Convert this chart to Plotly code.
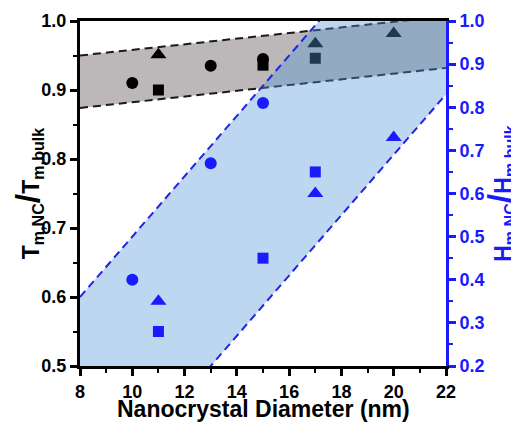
import plotly.graph_objects as go

# ---- data ----
# Tm,NC / Tm,bulk (left axis, black markers)
tm_circle_x = [10, 13, 15]
tm_circle_y = [0.91, 0.935, 0.945]
tm_square_x = [11, 15, 17]
tm_square_y = [0.90, 0.936, 0.946]
tm_tri_x = [11, 17, 20]
tm_tri_y = [0.951, 0.967, 0.982]

# Hm,NC / Hm,bulk (right axis, blue markers)
hm_circle_x = [10, 13, 15]
hm_circle_y = [0.40, 0.67, 0.81]
hm_square_x = [11, 15, 17]
hm_square_y = [0.28, 0.45, 0.65]
hm_tri_x = [11, 17, 20]
hm_tri_y = [0.35, 0.60, 0.73]

# band guide lines (values at x = 8 and x = 22)
band_x = [8, 22]
gray_upper = [0.95, 1.007]
gray_lower = [0.874, 0.932]
blue_upper = [0.36, 1.34]
blue_lower = [-0.15, 0.83]

x_ticks = [8, 10, 12, 14, 16, 18, 20, 22]
yl_ticks = [0.5, 0.6, 0.7, 0.8, 0.9, 1.0]
yr_ticks = [0.2, 0.3, 0.4, 0.5, 0.6, 0.7, 0.8, 0.9, 1.0]

FONT = "Liberation Sans, Arial, sans-serif"
BLUE = "#1a1aff"
fig = go.Figure()

# gray band (left axis)
fig.add_trace(go.Scatter(
    x=band_x + band_x[::-1], y=gray_upper + gray_lower[::-1],
    fill="toself", fillcolor="rgb(188,184,185)", mode="none",
    showlegend=False, hoverinfo="skip"))
for yy in (gray_upper, gray_lower):
    fig.add_trace(go.Scatter(x=band_x, y=yy, mode="lines",
                             line=dict(color="#1a1a1a", width=2, dash="8px,5px"),
                             showlegend=False, hoverinfo="skip"))

fig.add_trace(go.Scatter(x=tm_circle_x, y=tm_circle_y, mode="markers",
                         marker=dict(symbol="circle", color="black", size=12), showlegend=False))
fig.add_trace(go.Scatter(x=tm_square_x, y=tm_square_y, mode="markers",
                         marker=dict(symbol="square", color="black", size=11), showlegend=False))
fig.add_trace(go.Scatter(x=tm_tri_x, y=tm_tri_y, mode="markers",
                         marker=dict(symbol="triangle-up", color="black", size=14), showlegend=False))

# blue band (right axis) drawn over
fig.add_trace(go.Scatter(
    x=band_x + band_x[::-1], y=blue_upper + blue_lower[::-1], yaxis="y2",
    fill="toself", fillcolor="rgba(80,150,212,0.38)", mode="none",
    showlegend=False, hoverinfo="skip"))
for yy in (blue_upper, blue_lower):
    fig.add_trace(go.Scatter(x=band_x, y=yy, yaxis="y2", mode="lines",
                             line=dict(color="#2323e6", width=2, dash="8px,5px"),
                             showlegend=False, hoverinfo="skip"))

fig.add_trace(go.Scatter(x=hm_circle_x, y=hm_circle_y, yaxis="y2", mode="markers",
                         marker=dict(symbol="circle", color=BLUE, size=12), showlegend=False))
fig.add_trace(go.Scatter(x=hm_square_x, y=hm_square_y, yaxis="y2", mode="markers",
                         marker=dict(symbol="square", color=BLUE, size=11), showlegend=False))
fig.add_trace(go.Scatter(x=hm_tri_x, y=hm_tri_y, yaxis="y2", mode="markers",
                         marker=dict(symbol="triangle-up", color=BLUE, size=14), showlegend=False))

fig.add_annotation(text="<b>Nanocrystal Diameter (nm)</b>", xref="paper", yref="paper",
                   x=0.5, y=0, yshift=-43, xanchor="center", yanchor="middle",
                   showarrow=False, font=dict(family=FONT, size=23, color="black"))

tickfont = dict(family=FONT, size=18, color="black")
fig.update_layout(
    width=511, height=416,
    margin=dict(l=72, r=73, t=13, b=58, autoexpand=False),
    paper_bgcolor="white", plot_bgcolor="white",
    font=dict(family=FONT),
    xaxis=dict(range=[8, 22], tickvals=x_ticks, ticktext=["<b>%d</b>" % v for v in x_ticks],
               automargin=False,
               showgrid=False, zeroline=False, showline=True, linecolor="black",
               linewidth=3, mirror=True, ticks="outside", ticklen=7, tickwidth=2.5,
               tickcolor="black", tickfont=tickfont,
               minor=dict(dtick=1, ticklen=4, tickwidth=2, tickcolor="black", ticks="outside")),
    yaxis=dict(range=[0.5, 1.0], tickvals=yl_ticks, ticktext=["<b>%.1f</b>" % v for v in yl_ticks],
               automargin=False,
               showgrid=False, zeroline=False, showline=True, linecolor="black",
               linewidth=3, ticks="outside", ticklen=7, tickwidth=2.5, tickcolor="black",
               tickfont=tickfont,
               minor=dict(dtick=0.05, ticklen=4, tickwidth=2, tickcolor="black", ticks="outside"),
               title=dict(text="<b>T<sub>m,NC</sub><span style='font-size:34px'>/</span>T<sub>m,bulk</sub></b>",
                          standoff=2, font=dict(family=FONT, size=23, color="black"))),
    yaxis2=dict(range=[0.2, 1.0], overlaying="y", side="right", automargin=False,
                tickvals=yr_ticks, ticktext=["<b>%.1f</b>" % v for v in yr_ticks],
                showgrid=False, zeroline=False, showline=True, linecolor=BLUE,
                linewidth=3, ticks="outside", ticklen=7, tickwidth=2.5, tickcolor=BLUE,
                tickfont=dict(family=FONT, size=18, color=BLUE),
                minor=dict(dtick=0.05, ticklen=4, tickwidth=2, tickcolor=BLUE, ticks="outside"),
                title=dict(text="<b>H<sub>m,NC</sub><span style='font-size:34px'>/</span>H<sub>m,bulk</sub></b>",
                           standoff=2, font=dict(family=FONT, size=23, color=BLUE))),
)

fig.write_html("out.html")
